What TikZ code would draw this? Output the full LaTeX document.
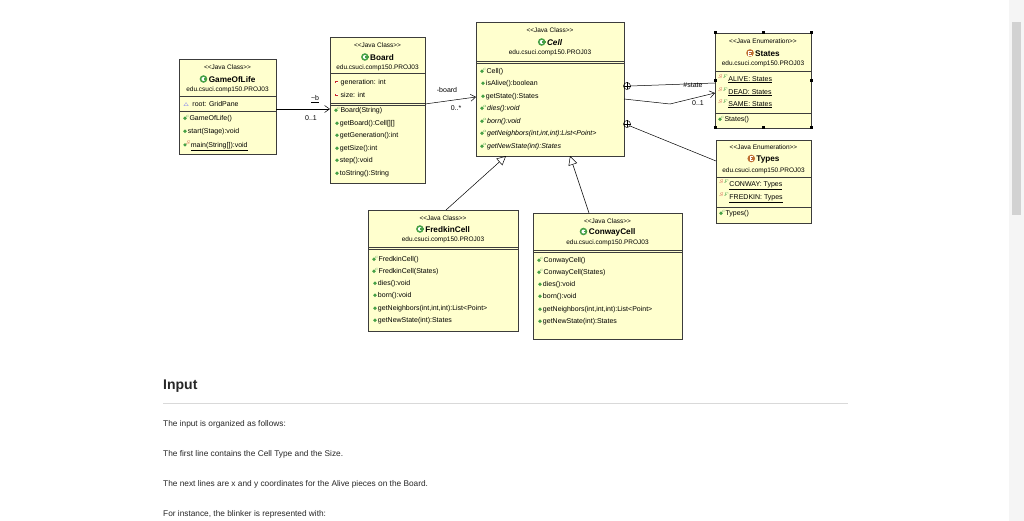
\documentclass[tikz,border=0pt]{standalone}
\usepackage{fontspec}
\setmainfont{Liberation Sans}
\usetikzlibrary{arrows.meta}
\definecolor{boxfill}{RGB}{255,255,206}
\definecolor{boxline}{RGB}{60,60,60}
\definecolor{icg}{RGB}{70,160,70}
\definecolor{icr}{RGB}{200,40,40}
\definecolor{txt}{RGB}{40,40,40}
\definecolor{ice}{RGB}{190,110,50}
\newcommand{\dotI}{\tikz[baseline=-0.7ex]\fill[icg] (0,0) circle (1.8pt);}
\newcommand{\mI}{\dotI\,}
\newcommand{\cI}{\dotI\kern-1pt{\color{icg}$^{\scriptscriptstyle c}$}}
\newcommand{\aI}{\dotI\kern-1pt{\color{icg}$^{\scriptscriptstyle a}$}}
\newcommand{\fI}{\tikz[baseline=-0.7ex]{\fill[icr] (-1.6pt,-1.2pt) rectangle (1.6pt,1.2pt);\fill[white] (-0.8pt,-0.5pt) rectangle (0.8pt,0.5pt);}\,\,}
\newcommand{\eI}{{\color{icr}$^{\scriptscriptstyle S}$}\kern-0.5pt{\color{icg}$^{\scriptscriptstyle F}$}}
\newcommand{\gI}{\tikz[baseline=-0.7ex]{\fill[icg] (0,0) circle (3.8pt);\fill[white] (0,0) circle (2pt);\fill[icg] (0.5pt,-0.8pt) rectangle (4pt,0.8pt);}\,}
\newcommand{\EI}{\tikz[baseline=-0.7ex]{\fill[ice] (0,0) circle (3.8pt);\draw[white,line width=0.8pt] (1.5pt,-2pt) -- (-1.3pt,-2pt) -- (-1.3pt,2pt) -- (1.5pt,2pt) (-1.3pt,0) -- (1pt,0);}\,}
\begin{document}
\begin{tikzpicture}[x=1pt,y=-1pt,
  box/.style={draw=boxline,fill=boxfill,anchor=north west,inner sep=0,line width=0.6pt},
  mem/.style={anchor=west,inner sep=0,font=\fontsize{7}{8}\selectfont,text=black},
  st/.style={inner sep=0,font=\fontsize{6.5}{7}\selectfont},
  ttl/.style={inner sep=0,font=\fontsize{8.2}{9}\selectfont\bfseries},
  sep/.style={boxline,line width=0.5pt},
  lab/.style={inner sep=0,font=\fontsize{7}{8}\selectfont},
  assoc/.style={-{Straight Barb[length=5pt,width=7pt]},line width=0.5pt},
  gen/.style={-{Triangle[open,length=9pt,width=9pt]},line width=0.5pt,fill=white}]
\useasboundingbox[fill=white] (0,0) rectangle (1024,521);
% scrollbar
\fill[gray!8] (1009,0) rectangle (1024,521);
\fill[gray!35] (1012,22) rectangle (1021,215);

% GameOfLife
\node[box,minimum width=97pt,minimum height=95pt] (gol) at (179,59) {};
\node[st] (golst) at (227.5,67) {<{}<Java Class>{}>};
\node[ttl] (golt) at (227.5,79) {\gI GameOfLife};
\node[st] (golp) at (227.5,90) {edu.csuci.comp150.PROJ03};
\draw[sep] (179,96) -- (276,96);
\node[mem] (g1) at (183,104) {{\color{blue!70}$\scriptscriptstyle\triangle$}\, root: GridPane};
\draw[sep] (179,111) -- (276,111);
\node[mem] (g2) at (183,119) {\cI GameOfLife()};
\node[mem] (g3) at (183,132) {\mI start(Stage):void};
\node[mem] (g4) at (183,146) {\dotI\kern-1pt{\color{icr}$^{\scriptscriptstyle S}$}\underline{main(String[]):void}};

% Board
\node[box,minimum width=95pt,minimum height=146pt] (board) at (330,37) {};
\node[st] (bst) at (377.5,45) {<{}<Java Class>{}>};
\node[ttl] (bt) at (377.5,57) {\gI Board};
\node[st] (bp) at (377.5,68) {edu.csuci.comp150.PROJ03};
\draw[sep] (330,73) -- (425,73);
\node[mem] (b1) at (335,83) {\fI generation: int};
\node[mem] (b2) at (335,95) {\fI size: int};
\draw[sep] (330,103) -- (425,103);
\draw[sep] (330,105) -- (425,105);
\node[mem] (b3) at (334,111) {\cI Board(String)};
\node[mem] (b4) at (335,124) {\mI getBoard():Cell[][]};
\node[mem] (b5) at (335,136) {\mI getGeneration():int};
\node[mem] (b6) at (335,149) {\mI getSize():int};
\node[mem] (b7) at (335,161) {\mI step():void};
\node[mem] (b8) at (335,174) {\mI toString():String};

% Cell
\node[box,minimum width=148pt,minimum height=134pt] (cell) at (476,22) {};
\node[st] (cst) at (550,30) {<{}<Java Class>{}>};
\node[ttl] (ct) at (550,42) {\gI\itshape Cell};
\node[st] (cp) at (550,53) {edu.csuci.comp150.PROJ03};
\draw[sep] (476,61) -- (624,61);
\draw[sep] (476,63) -- (624,63);
\node[mem] (c1) at (480,72) {\cI Cell()};
\node[mem] (c2) at (481,84) {\mI isAlive():boolean};
\node[mem] (c3) at (481,97) {\mI getState():States};
\node[mem] (c4) at (480,109) {\aI\itshape dies():void};
\node[mem] (c5) at (480,122) {\aI\itshape born():void};
\node[mem] (c6) at (480,134) {\aI\itshape getNeighbors(int,int,int):List<Point>};
\node[mem] (c7) at (480,147) {\aI\itshape getNewState(int):States};

% States
\node[box,minimum width=96pt,minimum height=95pt] (states) at (715,33) {};
\node[st] (sst) at (763,41) {<{}<Java Enumeration>{}>};
\node[ttl] (stt) at (763,53) {\EI States};
\node[st] (sp) at (763,64) {edu.csuci.comp150.PROJ03};
\draw[sep] (715,71) -- (811,71);
\node[mem] (s1) at (718,79) {\eI\underline{ALIVE: States}};
\node[mem] (s2) at (718,92) {\eI\underline{DEAD: States}};
\node[mem] (s3) at (718,104) {\eI\underline{SAME: States}};
\draw[sep] (715,113) -- (811,113);
\node[mem] (s4) at (718,120) {\cI States()};
\foreach \p in {(715,33),(763,33),(811,33),(715,81),(811,81),(715,128),(763,128),(811,128)}
  \fill[black] \p ++(-1.5,-1.5) rectangle ++(3,3);

% Types
\node[box,minimum width=95pt,minimum height=83pt] (types) at (716,140) {};
\node[st] (tst) at (763.5,147) {<{}<Java Enumeration>{}>};
\node[ttl] (tt) at (763.5,159) {\EI Types};
\node[st] (tp) at (763.5,171) {edu.csuci.comp150.PROJ03};
\draw[sep] (716,177) -- (811,177);
\node[mem] (t1) at (719,185) {\eI\underline{CONWAY: Types}};
\node[mem] (t2) at (719,198) {\eI\underline{FREDKIN: Types}};
\draw[sep] (716,207) -- (811,207);
\node[mem] (t3) at (719,214) {\cI Types()};

% FredkinCell
\node[box,minimum width=150pt,minimum height=121pt] (fred) at (368,210) {};
\node[st] (fst) at (443,218) {<{}<Java Class>{}>};
\node[ttl] (ft) at (443,229) {\gI FredkinCell};
\node[st] (fp) at (443,240) {edu.csuci.comp150.PROJ03};
\draw[sep] (368,247) -- (518,247);
\draw[sep] (368,249) -- (518,249);
\node[mem] (f1) at (372,260) {\cI FredkinCell()};
\node[mem] (f2) at (372,272) {\cI FredkinCell(States)};
\node[mem] (f3) at (373,284) {\mI dies():void};
\node[mem] (f4) at (373,296) {\mI born():void};
\node[mem] (f5) at (373,309) {\mI getNeighbors(int,int,int):List<Point>};
\node[mem] (f6) at (373,321) {\mI getNewState(int):States};

% ConwayCell
\node[box,minimum width=149pt,minimum height=126pt] (conw) at (533,213) {};
\node[st] (wst) at (607.5,221) {<{}<Java Class>{}>};
\node[ttl] (wt) at (607.5,232) {\gI ConwayCell};
\node[st] (wp) at (607.5,243) {edu.csuci.comp150.PROJ03};
\draw[sep] (533,250) -- (682,250);
\draw[sep] (533,252) -- (682,252);
\node[mem] (w1) at (537,261) {\cI ConwayCell()};
\node[mem] (w2) at (537,273) {\cI ConwayCell(States)};
\node[mem] (w3) at (538,285) {\mI dies():void};
\node[mem] (w4) at (538,297) {\mI born():void};
\node[mem] (w5) at (538,310) {\mI getNeighbors(int,int,int):List<Point>};
\node[mem] (w6) at (538,322) {\mI getNewState(int):States};

% connectors
\coordinate (golR) at (276,109);
\coordinate (bL) at (330,109);
\draw[assoc] (golR) -- (bL);
\node[lab] (lb) at (315,99) {\underline{\textasciitilde b}};
\node[lab] (l01) at (311,118) {0..1};
\coordinate (bR) at (425,104);
\coordinate (cL) at (476,97);
\draw[assoc] (bR) -- (cL);
\node[lab] (lbd) at (447,90) {-board};
\node[lab] (l0s) at (456,108) {0..*};
% nested
\coordinate (pl1) at (627,86);
\coordinate (sL1) at (715,83);
\draw[line width=0.5pt] (pl1) circle (3.5);
\draw[line width=0.5pt] (pl1) ++(-3.5,0) -- ++(7,0) (pl1) ++(0,-3.5) -- ++(0,7);
\draw[line width=0.5pt] (630.5,86) -- (sL1);
\node[lab] (lst) at (693,85) {\#state};
\coordinate (cR2) at (624,99);
\coordinate (mid) at (670,104);
\coordinate (sL2) at (715,93);
\draw[assoc] (cR2) -- (mid) -- (sL2);
\node[lab] (l01b) at (698,103) {0..1};
\coordinate (pl2) at (627,124);
\coordinate (tL) at (716,161);
\draw[line width=0.5pt] (pl2) circle (3.5);
\draw[line width=0.5pt] (pl2) ++(-3.5,0) -- ++(7,0) (pl2) ++(0,-3.5) -- ++(0,7);
\draw[line width=0.5pt] (630,126) -- (tL);
% generalization
\coordinate (fT) at (446,210);
\coordinate (cB1) at (506,156);
\draw[gen] (fT) -- (cB1);
\coordinate (wT) at (589,213);
\coordinate (cB2) at (570,156);
\draw[gen] (wT) -- (cB2);

% page text
\node[anchor=west,inner sep=0,font=\fontsize{14}{16}\selectfont\bfseries,text=txt] (inp) at (163,386) {Input};
\draw[gray!30,line width=0.8pt] (163,403) -- (848,403);
\tikzset{para/.style={anchor=west,inner sep=0,font=\fontsize{8.3}{10}\selectfont,text=txt}}
\node[para] (p1) at (163,424) {The input is organized as follows:};
\node[para] (p2) at (163,454) {The first line contains the Cell Type and the Size.};
\node[para] (p3) at (163,484) {The next lines are x and y coordinates for the Alive pieces on the Board.};
\node[para] (p4) at (163,514) {For instance, the blinker is represented with:};
\end{tikzpicture}
\end{document}
